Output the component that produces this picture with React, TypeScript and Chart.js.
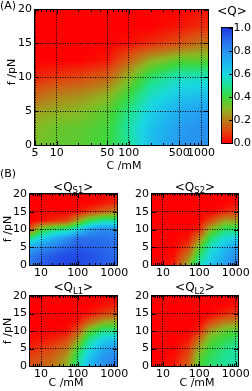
import React, { useEffect, useRef } from 'react';
import { Chart, registerables } from 'chart.js';
Chart.register(...registerables);

const FONT = '"DejaVu Sans", sans-serif';
Chart.defaults.font.family = FONT;
Chart.defaults.color = '#000';

// grid nodes
const C_NODES = [5, 10, 20, 50, 100, 200, 500, 1000];
const F_NODES = [0, 2.5, 5, 7.5, 10, 12.5, 15, 17.5, 20];

// rows: f = 0 ... 20 ; columns: C nodes
const Q_ALL = [
  [0.32, 0.35, 0.36, 0.40, 0.50, 0.68, 0.78, 0.80],
  [0.30, 0.34, 0.35, 0.39, 0.52, 0.66, 0.76, 0.80],
  [0.25, 0.28, 0.30, 0.36, 0.48, 0.62, 0.72, 0.76],
  [0.15, 0.20, 0.22, 0.28, 0.40, 0.55, 0.64, 0.66],
  [0.05, 0.08, 0.10, 0.15, 0.30, 0.45, 0.55, 0.55],
  [0.00, 0.00, 0.00, 0.03, 0.15, 0.28, 0.36, 0.36],
  [0.00, 0.00, 0.00, 0.00, 0.02, 0.06, 0.12, 0.18],
  [0.00, 0.00, 0.00, 0.00, 0.00, 0.00, 0.03, 0.06],
  [0.00, 0.00, 0.00, 0.00, 0.00, 0.00, 0.00, 0.03],
];
const Q_S1 = [
  [0.85, 0.92, 0.95, 0.97, 0.97, 0.95, 0.92, 0.90],
  [0.85, 0.90, 0.93, 0.96, 0.96, 0.95, 0.92, 0.90],
  [0.72, 0.80, 0.85, 0.90, 0.93, 0.92, 0.90, 0.88],
  [0.50, 0.60, 0.70, 0.80, 0.88, 0.88, 0.88, 0.86],
  [0.12, 0.38, 0.45, 0.50, 0.60, 0.75, 0.82, 0.80],
  [0.00, 0.02, 0.05, 0.10, 0.25, 0.40, 0.50, 0.50],
  [0.00, 0.00, 0.00, 0.00, 0.02, 0.08, 0.15, 0.20],
  [0.00, 0.00, 0.00, 0.00, 0.00, 0.00, 0.03, 0.05],
  [0.00, 0.00, 0.00, 0.00, 0.00, 0.00, 0.00, 0.02],
];
const Q_S2 = [
  [0.00, 0.00, 0.05, 0.30, 0.55, 0.65, 0.75, 0.85],
  [0.00, 0.00, 0.02, 0.20, 0.45, 0.60, 0.72, 0.80],
  [0.00, 0.00, 0.00, 0.10, 0.35, 0.55, 0.68, 0.75],
  [0.00, 0.00, 0.00, 0.03, 0.20, 0.45, 0.58, 0.62],
  [0.00, 0.00, 0.00, 0.00, 0.05, 0.30, 0.45, 0.45],
  [0.00, 0.00, 0.00, 0.00, 0.00, 0.10, 0.25, 0.25],
  [0.00, 0.00, 0.00, 0.00, 0.00, 0.00, 0.05, 0.08],
  [0.00, 0.00, 0.00, 0.00, 0.00, 0.00, 0.00, 0.02],
  [0.00, 0.00, 0.00, 0.00, 0.00, 0.00, 0.00, 0.00],
];
const Q_L1 = [
  [0.12, 0.15, 0.18, 0.28, 0.50, 0.68, 0.80, 0.85],
  [0.10, 0.12, 0.15, 0.25, 0.45, 0.65, 0.78, 0.82],
  [0.05, 0.08, 0.10, 0.18, 0.38, 0.58, 0.72, 0.78],
  [0.02, 0.03, 0.05, 0.10, 0.25, 0.48, 0.62, 0.65],
  [0.00, 0.00, 0.00, 0.02, 0.12, 0.35, 0.48, 0.48],
  [0.00, 0.00, 0.00, 0.00, 0.03, 0.15, 0.28, 0.30],
  [0.00, 0.00, 0.00, 0.00, 0.00, 0.02, 0.08, 0.12],
  [0.00, 0.00, 0.00, 0.00, 0.00, 0.00, 0.02, 0.04],
  [0.00, 0.00, 0.00, 0.00, 0.00, 0.00, 0.00, 0.00],
];
const Q_L2 = [
  [0.00, 0.00, 0.03, 0.15, 0.38, 0.45, 0.50, 0.52],
  [0.00, 0.00, 0.02, 0.12, 0.35, 0.44, 0.50, 0.52],
  [0.00, 0.00, 0.00, 0.08, 0.28, 0.40, 0.47, 0.50],
  [0.00, 0.00, 0.00, 0.03, 0.18, 0.35, 0.42, 0.45],
  [0.00, 0.00, 0.00, 0.00, 0.05, 0.25, 0.35, 0.38],
  [0.00, 0.00, 0.00, 0.00, 0.00, 0.10, 0.20, 0.22],
  [0.00, 0.00, 0.00, 0.00, 0.00, 0.00, 0.05, 0.08],
  [0.00, 0.00, 0.00, 0.00, 0.00, 0.00, 0.00, 0.02],
  [0.00, 0.00, 0.00, 0.00, 0.00, 0.00, 0.00, 0.00],
];

const X_TICKS_A = [5, 10, 50, 100, 500, 1000];
const X_TICKS_B = [10, 100, 1000];
const X_MINOR = [6, 7, 8, 9, 20, 30, 40, 60, 70, 80, 90, 200, 300, 400, 600, 700, 800, 900];
const Y_TICKS = [0, 5, 10, 15, 20];
const CBAR_TICKS = [0, 0.2, 0.4, 0.6, 0.8, 1.0];

// colormap
const CMAP_POS = [0, 0.1, 0.2, 0.3, 0.4, 0.5, 0.6, 0.7, 0.8, 0.9, 1.0];
const CMAP_RGB = [
  [255, 0, 0], [225, 70, 15], [185, 125, 25], [135, 185, 35], [60, 215, 60],
  [30, 225, 150], [25, 215, 225], [30, 180, 240], [40, 145, 240], [40, 105, 235], [30, 55, 225],
];

const W = 252, H = 391;

function frac(nodes: number[], v: number) {
  const n = nodes.length;
  if (v <= nodes[0]) return 0;
  if (v >= nodes[n - 1]) return n - 1;
  for (let k = 0; k < n - 1; k++) {
    if (v >= nodes[k] && v <= nodes[k + 1]) return k + (v - nodes[k]) / (nodes[k + 1] - nodes[k]);
  }
  return n - 1;
}
function cmap(v: number) {
  const t = frac(CMAP_POS, Math.max(0, Math.min(1, v)));
  const i0 = Math.floor(t), i1 = Math.min(i0 + 1, CMAP_RGB.length - 1), s = t - i0;
  const a = CMAP_RGB[i0], b = CMAP_RGB[i1];
  return [a[0] + (b[0] - a[0]) * s, a[1] + (b[1] - a[1]) * s, a[2] + (b[2] - a[2]) * s];
}
function sample(grid: number[][], c: number, f: number) {
  const lx = C_NODES.map((v) => Math.log10(v));
  const gi = frac(lx, Math.log10(c));
  const gj = frac(F_NODES, f);
  const i0 = Math.floor(gi), i1 = Math.min(i0 + 1, C_NODES.length - 1), t = gi - i0;
  const j0 = Math.floor(gj), j1 = Math.min(j0 + 1, F_NODES.length - 1), u = gj - j0;
  const a = grid[j0][i0] * (1 - t) + grid[j0][i1] * t;
  const b = grid[j1][i0] * (1 - t) + grid[j1][i1] * t;
  return a * (1 - u) + b * u;
}

function drawQTitle(ctx: CanvasRenderingContext2D, cx: number, baseline: number, sub: string) {
  const big = `12px ${FONT}`, small = `8.5px ${FONT}`;
  ctx.font = big;
  const w1 = ctx.measureText('<Q').width;
  const w3 = ctx.measureText('>').width;
  ctx.font = small;
  const w2 = sub ? ctx.measureText(sub).width : 0;
  let x = cx - (w1 + w2 + w3) / 2;
  ctx.textAlign = 'left';
  ctx.textBaseline = 'alphabetic';
  ctx.fillStyle = '#000';
  ctx.font = big;
  ctx.fillText('<Q', x, baseline);
  x += w1;
  if (sub) {
    ctx.font = small;
    ctx.fillText(sub, x, baseline + 2.5);
    x += w2;
  }
  ctx.font = big;
  ctx.fillText('>', x, baseline);
}

type PanelCfg = {
  area: { l: number; t: number; r: number; b: number };
  xmax: number;
  xticks: number[];
  grid: number[][];
  xh: number;
  sub?: string;
  titleBase?: number;
  label?: { text: string; x: number; y: number };
  xTitle?: { x: number; y: number };
  yTitle?: { x: number; y: number };
};

const PANELS: PanelCfg[] = [
  { area: { l: 35, t: 9, r: 208, b: 145 }, xmax: 1250, xticks: X_TICKS_A, grid: Q_ALL, xh: 30,
    label: { text: '(A)', x: 0, y: 8.5 }, xTitle: { x: 124, y: 166 }, yTitle: { x: 12.5, y: 72 } },
  { area: { l: 30, t: 194, r: 116.5, b: 265 }, xmax: 1150, xticks: X_TICKS_B, grid: Q_S1, xh: 24,
    sub: 'S1', titleBase: 190.5, label: { text: '(B)', x: 0, y: 177 }, yTitle: { x: 8, y: 229 } },
  { area: { l: 152, t: 194, r: 238.5, b: 265 }, xmax: 1150, xticks: X_TICKS_B, grid: Q_S2, xh: 24,
    sub: 'S2', titleBase: 190.5 },
  { area: { l: 30, t: 296, r: 116.5, b: 366 }, xmax: 1150, xticks: X_TICKS_B, grid: Q_L1, xh: 24,
    sub: 'L1', titleBase: 291, xTitle: { x: 66, y: 383 }, yTitle: { x: 8, y: 331 } },
  { area: { l: 152, t: 296, r: 238.5, b: 366 }, xmax: 1150, xticks: X_TICKS_B, grid: Q_L2, xh: 24,
    sub: 'L2', titleBase: 291, xTitle: { x: 197, y: 383 } },
];

function panelConfig(p: PanelCfg): any {
  const heat = {
    id: 'heat',
    beforeDraw(chart: any) {
      const { ctx, chartArea: a, scales } = chart;
      const xs = scales.x, ys = scales.y;
      const L = Math.round(a.left), T = Math.round(a.top), R = Math.round(a.right), B = Math.round(a.bottom);
      const w = R - L, h = B - T;
      const off = document.createElement('canvas');
      off.width = w; off.height = h;
      const octx = off.getContext('2d')!;
      const img = octx.createImageData(w, h);
      for (let j = 0; j < h; j++) {
        const f = ys.getValueForPixel(T + j + 0.5);
        for (let i = 0; i < w; i++) {
          const c = xs.getValueForPixel(L + i + 0.5);
          const col = cmap(sample(p.grid, c, f));
          const k = (j * w + i) * 4;
          img.data[k] = col[0]; img.data[k + 1] = col[1]; img.data[k + 2] = col[2]; img.data[k + 3] = 255;
        }
      }
      octx.putImageData(img, 0, 0);
      ctx.drawImage(off, L, T);
    },
    afterDraw(chart: any) {
      const { ctx, chartArea: a, scales } = chart;
      const xs = scales.x, ys = scales.y;
      const L = Math.round(a.left), T = Math.round(a.top), R = Math.round(a.right), B = Math.round(a.bottom);
      ctx.save();
      ctx.strokeStyle = '#000';
      ctx.lineWidth = 1;
      ctx.strokeRect(L - 0.5, T - 0.5, R - L + 1, B - T + 1);
      ctx.beginPath();
      const vt = (v: number, len: number) => {
        const x = Math.round(xs.getPixelForValue(v)) + 0.5;
        ctx.moveTo(x, B); ctx.lineTo(x, B - len);
        ctx.moveTo(x, T); ctx.lineTo(x, T + len);
      };
      p.xticks.forEach((v) => vt(v, 4));
      X_MINOR.forEach((v) => vt(v, 2));
      Y_TICKS.forEach((v) => {
        const y = Math.round(ys.getPixelForValue(v)) + 0.5;
        ctx.moveTo(L, y); ctx.lineTo(L + 4, y);
        ctx.moveTo(R, y); ctx.lineTo(R - 4, y);
      });
      ctx.stroke();
      ctx.fillStyle = '#000';
      if (p.sub) drawQTitle(ctx, (a.left + a.right) / 2, p.titleBase!, p.sub);
      if (p.label) {
        ctx.font = `11px ${FONT}`;
        ctx.textAlign = 'left';
        ctx.textBaseline = 'alphabetic';
        ctx.fillText(p.label.text, p.label.x, p.label.y);
      }
      ctx.font = `11px ${FONT}`;
      ctx.textAlign = 'center';
      ctx.textBaseline = 'middle';
      if (p.xTitle) ctx.fillText('C /mM', p.xTitle.x, p.xTitle.y);
      if (p.yTitle) {
        ctx.translate(p.yTitle.x, p.yTitle.y);
        ctx.rotate(-Math.PI / 2);
        ctx.fillText('f /pN', 0, 0);
      }
      ctx.restore();
    },
  };
  return {
    type: 'scatter',
    data: { datasets: [{ data: [], pointRadius: 0 }] },
    options: {
      animation: false,
      responsive: false,
      devicePixelRatio: 1,
      events: [],
      layout: { padding: { left: 0, top: p.area.t, right: W - p.area.r, bottom: H - p.area.b - p.xh } },
      plugins: { legend: { display: false }, tooltip: { enabled: false }, title: { display: false } },
      scales: {
        x: {
          type: 'logarithmic',
          min: 5,
          max: p.xmax,
          afterBuildTicks: (s: any) => { s.ticks = p.xticks.map((v) => ({ value: v })); },
          afterFit: (s: any) => { s.height = p.xh; },
          ticks: { autoSkip: false, maxRotation: 0, minRotation: 0, padding: 2, color: '#000',
            font: { size: 11, family: FONT }, callback: (v: any) => String(v) },
          grid: { color: '#000', lineWidth: 1, drawTicks: false },
          border: { display: false, dash: [1, 1.5] },
        },
        y: {
          type: 'linear',
          min: 0,
          max: 20,
          afterBuildTicks: (s: any) => { s.ticks = Y_TICKS.map((v) => ({ value: v })); },
          afterFit: (s: any) => { s.width = p.area.l; },
          ticks: { padding: 3, color: '#000', font: { size: 11, family: FONT }, callback: (v: any) => String(v) },
          grid: { color: '#000', lineWidth: 1, drawTicks: false },
          border: { display: false, dash: [1, 1.5] },
        },
      },
    },
    plugins: [heat],
  };
}

const CBAR = { l: 222, t: 28, r: 232, b: 143 };

function cbarConfig(): any {
  const plug = {
    id: 'cbar',
    beforeDraw(chart: any) {
      const { ctx, chartArea: a, scales } = chart;
      const ys = scales.y;
      const L = Math.round(a.left), T = Math.round(a.top), R = Math.round(a.right), B = Math.round(a.bottom);
      for (let j = T; j < B; j++) {
        const col = cmap(ys.getValueForPixel(j + 0.5));
        ctx.fillStyle = `rgb(${col[0]},${col[1]},${col[2]})`;
        ctx.fillRect(L, j, R - L, 1);
      }
    },
    afterDraw(chart: any) {
      const { ctx, chartArea: a, scales } = chart;
      const ys = scales.y;
      const L = Math.round(a.left), T = Math.round(a.top), R = Math.round(a.right), B = Math.round(a.bottom);
      ctx.save();
      ctx.strokeStyle = '#000';
      ctx.lineWidth = 1;
      ctx.strokeRect(L - 0.5, T - 0.5, R - L + 1, B - T + 1);
      ctx.beginPath();
      CBAR_TICKS.forEach((v) => {
        const y = Math.round(ys.getPixelForValue(v)) + 0.5;
        ctx.moveTo(R, y); ctx.lineTo(R - 3, y);
      });
      ctx.stroke();
      drawQTitle(ctx, 232, 15, '');
      ctx.restore();
    },
  };
  return {
    type: 'scatter',
    data: { datasets: [{ data: [], pointRadius: 0 }] },
    options: {
      animation: false,
      responsive: false,
      devicePixelRatio: 1,
      events: [],
      layout: { padding: { left: CBAR.l, top: CBAR.t, right: 0, bottom: H - CBAR.b } },
      plugins: { legend: { display: false }, tooltip: { enabled: false } },
      scales: {
        x: { display: false, min: 0, max: 1 },
        y: {
          position: 'right',
          min: 0,
          max: 1,
          afterBuildTicks: (s: any) => { s.ticks = CBAR_TICKS.map((v) => ({ value: v })); },
          afterFit: (s: any) => { s.width = W - CBAR.r; },
          ticks: { padding: 1.5, color: '#000', font: { size: 11, family: FONT }, callback: (v: any) => Number(v).toFixed(1) },
          grid: { display: false, drawTicks: false, tickLength: 0 },
          border: { display: false },
        },
      },
    },
    plugins: [plug],
  };
}

function ChartCanvas({ make }: { make: () => any }) {
  const ref = useRef<HTMLCanvasElement>(null);
  useEffect(() => {
    const chart = new Chart(ref.current!, make());
    return () => chart.destroy();
  }, []);
  return (
    <canvas
      ref={ref}
      width={W}
      height={H}
      style={{ position: 'fixed', left: 0, top: 0, width: W, height: H, pointerEvents: 'none' }}
    />
  );
}

export default function App() {
  return (
    <div style={{ width: W, height: H, background: '#fff' }}>
      {PANELS.map((p, i) => (
        <ChartCanvas key={i} make={() => panelConfig(p)} />
      ))}
      <ChartCanvas make={cbarConfig} />
    </div>
  );
}
